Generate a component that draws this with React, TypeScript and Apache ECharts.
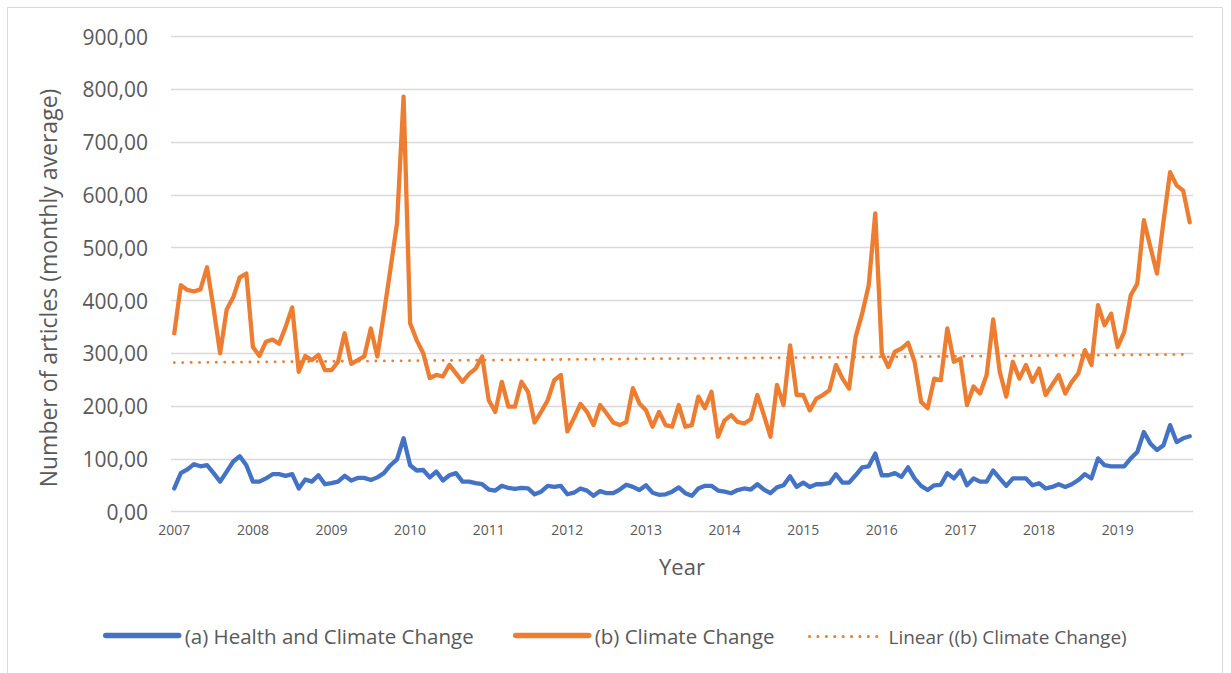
import React, { useEffect, useRef } from "react";
import * as echarts from "echarts";

const years = ["2007", "2008", "2009", "2010", "2011", "2012", "2013", "2014", "2015", "2016", "2017", "2018", "2019"];
const months = ["01", "02", "03", "04", "05", "06", "07", "08", "09", "10", "11", "12"];

const healthClimate = [
  44, 73, 80, 90, 86, 88, 73, 57, 76, 95, 105, 88,
  57, 57, 63, 71, 71, 68, 71, 44, 61, 57, 69, 52,
  54, 57, 68, 59, 64, 64, 60, 65, 73, 88, 99, 139,
  88, 78, 79, 65, 76, 59, 69, 73, 57, 57, 54, 52,
  42, 40, 49, 45, 43, 45, 44, 33, 38, 49, 47, 49,
  33, 36, 44, 40, 30, 39, 35, 35, 42, 51, 47, 41,
  50, 36, 32, 33, 38, 46, 35, 30, 44, 49, 49, 40,
  38, 35, 41, 44, 42, 52, 42, 35, 46, 50, 67, 47,
  55, 47, 52, 52, 54, 71, 55, 55, 69, 84, 86, 110,
  69, 69, 73, 66, 84, 63, 49, 41, 50, 51, 73, 63,
  78, 50, 63, 57, 57, 78, 63, 49, 63, 63, 63, 50,
  54, 44, 47, 52, 47, 52, 60, 71, 63, 101, 88, 86,
  86, 86, 101, 113, 151, 129, 117, 126, 164, 132, 139, 143,
];

const climateChange = [
  338, 429, 420, 417, 421, 463, 385, 300, 383, 406, 444, 451,
  312, 295, 322, 326, 318, 350, 387, 265, 295, 287, 297, 268,
  268, 284, 338, 280, 287, 294, 347, 294, 375, 460, 546, 786,
  357, 325, 300, 253, 259, 256, 278, 262, 246, 261, 271, 294,
  211, 189, 246, 199, 199, 246, 227, 169, 189, 211, 249, 259,
  152, 177, 204, 189, 164, 202, 186, 169, 164, 170, 234, 205,
  192, 161, 189, 164, 161, 202, 161, 164, 218, 196, 227, 142,
  173, 183, 170, 167, 175, 221, 183, 142, 240, 202, 315, 221,
  221, 192, 214, 221, 230, 278, 252, 233, 331, 375, 429, 565,
  300, 274, 303, 309, 320, 284, 208, 196, 252, 249, 347, 284,
  290, 202, 237, 224, 259, 364, 265, 218, 284, 252, 278, 246,
  271, 221, 240, 259, 224, 246, 262, 306, 278, 391, 353, 375,
  312, 340, 410, 432, 552, 501, 451, 550, 643, 618, 608, 548,
];

const seriesNames = ["(a) Health and Climate Change", "(b) Climate Change", "Linear ((b) Climate Change)"];

const categories = years.flatMap((y) => months.map((m) => `${y}-${m}`));

function linearTrend(values: number[]): number[] {
  const n = values.length;
  let sx = 0, sy = 0, sxx = 0, sxy = 0;
  values.forEach((v, i) => {
    sx += i; sy += v; sxx += i * i; sxy += i * v;
  });
  const b = (n * sxy - sx * sy) / (n * sxx - sx * sx);
  const a = (sy - b * sx) / n;
  return values.map((_, i) => +(a + b * i).toFixed(2));
}

const FONT = "Open Sans";
const TXT = "#595959";
const BLUE = "#4472C4";
const ORANGE = "#ED7D31";

const legendBase = {
  bottom: 22,
  itemWidth: 73,
  itemHeight: 14,
  itemGap: 0,
  itemStyle: { opacity: 0 },
};

const legendText = (size: number) => ({
  fontFamily: FONT,
  fontSize: size,
  color: TXT,
  padding: [0, 0, 0, 1],
});

export default function App() {
  const ref = useRef<HTMLDivElement>(null);
  useEffect(() => {
    if (!ref.current) return;
    const chart = echarts.init(ref.current, null, { renderer: "svg" });
    chart.setOption({
      animation: false,
      backgroundColor: "#ffffff",
      textStyle: { fontFamily: FONT, color: TXT },
      grid: { left: 171, right: 38, top: 36.5, bottom: 161.3 },
      graphic: [
        {
          type: "rect",
          shape: { x: 7.5, y: 7.5, width: 1215, height: 670 },
          style: { fill: "none", stroke: "#D9D9D9", lineWidth: 1 },
          silent: true,
        },
        {
          type: "text",
          x: 48,
          y: 288,
          rotation: Math.PI / 2,
          style: {
            text: "Number of articles (monthly average)",
            fontFamily: FONT,
            fontSize: 23,
            fill: TXT,
            align: "center",
            verticalAlign: "middle",
          },
        },
      ],
      legend: [
        { ...legendBase, left: 98, textStyle: legendText(20.5), data: [{ name: seriesNames[0], lineStyle: { width: 5.5 } }] },
        { ...legendBase, left: 508, textStyle: legendText(20.5), data: [{ name: seriesNames[1], lineStyle: { width: 5.5 } }] },
        { ...legendBase, left: 803, textStyle: legendText(19), data: [{ name: seriesNames[2], lineStyle: { width: 3 } }] },
      ],
      xAxis: {
        type: "category",
        data: categories,
        boundaryGap: true,
        name: "Year",
        nameLocation: "middle",
        nameGap: 43,
        nameTextStyle: { fontFamily: FONT, fontSize: 22, color: TXT },
        axisLine: { show: false },
        axisTick: { show: false },
        axisLabel: {
          interval: 11,
          margin: 11,
          fontSize: 14,
          color: TXT,
          fontFamily: FONT,
          formatter: (v: string) => v.slice(0, 4),
        },
        splitLine: { show: false },
      },
      yAxis: {
        type: "value",
        min: 0,
        max: 900,
        interval: 100,
        axisLine: { show: false },
        axisTick: { show: false },
        axisLabel: {
          margin: 23,
          fontSize: 21,
          color: TXT,
          fontFamily: FONT,
          formatter: (v: number) => v.toFixed(2).replace(".", ","),
        },
        splitLine: { lineStyle: { color: "#D9D9D9", width: 1.3 } },
      },
      series: [
        {
          name: seriesNames[0],
          type: "line",
          data: healthClimate,
          symbol: "none",
          color: BLUE,
          lineStyle: { color: BLUE, width: 4.3, cap: "round", join: "round" },
          z: 3,
        },
        {
          name: seriesNames[1],
          type: "line",
          data: climateChange,
          symbol: "none",
          color: ORANGE,
          lineStyle: { color: ORANGE, width: 4.3, cap: "round", join: "round" },
          z: 2,
        },
        {
          name: seriesNames[2],
          type: "line",
          data: linearTrend(climateChange),
          symbol: "none",
          color: ORANGE,
          lineStyle: { color: ORANGE, width: 2.8, type: [0.1, 8.3], cap: "round" },
          z: 1,
        },
      ],
    });
    return () => chart.dispose();
  }, []);
  return (
    <div
      ref={ref}
      style={{ position: "fixed", left: 0, top: 0, width: 1231, height: 673 }}
    />
  );
}
